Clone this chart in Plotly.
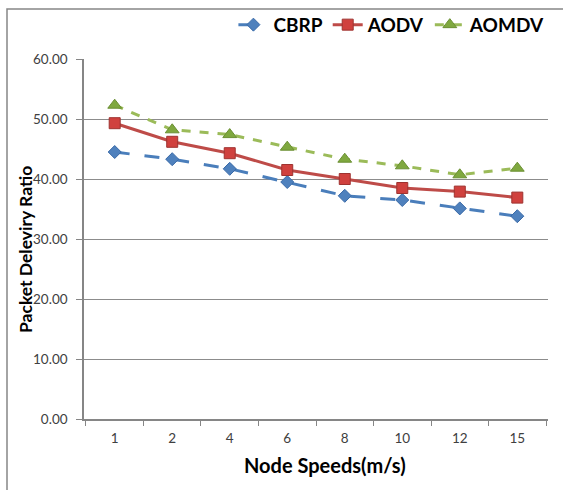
import plotly.graph_objects as go

speeds = ["1", "2", "4", "6", "8", "10", "12", "15"]
cbrp = [44.5, 43.3, 41.7, 39.5, 37.2, 36.5, 35.1, 33.8]
aodv = [49.3, 46.2, 44.3, 41.5, 40.0, 38.5, 37.9, 36.9]
aomdv = [52.3, 48.2, 47.4, 45.3, 43.3, 42.2, 40.7, 41.8]
y_ticks = [0, 10, 20, 30, 40, 50, 60]

fig = go.Figure()
fig.add_trace(go.Scatter(
    x=speeds, y=cbrp, name="CBRP", mode="lines+markers",
    line=dict(color="#4A7EBB", width=3, dash="longdash"),
    marker=dict(symbol="diamond", size=10, color="#4F81BD", line=dict(color="#3A6AA8", width=1))))
fig.add_trace(go.Scatter(
    x=speeds, y=aodv, name="AODV", mode="lines+markers",
    line=dict(color="#BE4B48", width=3),
    marker=dict(symbol="square", size=11, color="#D0413E", line=dict(color="#9E3330", width=1))))
fig.add_trace(go.Scatter(
    x=speeds, y=aomdv, name="AOMDV", mode="lines+markers",
    line=dict(color="#9BBB59", width=3, dash="dash"),
    marker=dict(symbol="triangle-up", size=12, color="#7FA83F", line=dict(color="#6A8F32", width=1))))

fig.update_layout(
    width=563, height=490,
    margin=dict(l=84, r=15, t=59, b=71, autoexpand=False),
    paper_bgcolor="white", plot_bgcolor="white",
    font=dict(family="Lato, Liberation Sans, sans-serif", color="#404040"),
    showlegend=True,
    legend=dict(orientation="h", x=0.322, y=1.095, xanchor="left", yanchor="middle",
                font=dict(size=19, color="#000000", family="Lato, sans-serif", weight="bold"),
                itemwidth=30, tracegroupgap=0, bgcolor="rgba(0,0,0,0)"),
    xaxis=dict(type="category", tickson="boundaries", ticks="outside", ticklen=5,
               tickcolor="#868686", showline=True, linecolor="#868686", linewidth=1.5,
               showgrid=False, tickfont=dict(size=13.5, color="#404040"), automargin=False,
               ticklabelstandoff=6),
    yaxis=dict(range=[0, 60], tickvals=y_ticks, tickformat=".2f", ticks="outside", ticklen=6,
               tickcolor="#868686", showline=True, linecolor="#868686", linewidth=1.5,
               showgrid=True, gridcolor="#8C8C8C", gridwidth=1, zeroline=False,
               tickfont=dict(size=13.5, color="#404040"), automargin=False,
               ticklabelstandoff=6),
    annotations=[
        dict(text="<b>Node Speeds(m/s)</b>", xref="paper", yref="paper", x=0.5, y=0,
             xanchor="center", yanchor="middle", xshift=9, yshift=-46, showarrow=False,
             font=dict(size=20, color="#000000")),
        dict(text="<b>Packet Deleviry Ratio</b>", xref="paper", yref="paper", x=0, y=0.5,
             xanchor="center", yanchor="middle", xshift=-59, yshift=-11, textangle=-90,
             showarrow=False, font=dict(size=17.5, color="#000000")),
    ],
    shapes=[dict(type="rect", xref="paper", yref="paper",
                 x0=(7 - 84) / 464, x1=(600 - 84) / 464,
                 y0=(419 - 520) / 360, y1=(419 - 9) / 360,
                 line=dict(color="#868686", width=1.5), layer="below")],
)
fig.write_html("out.html", config={"displayModeBar": False},
               post_script="document.body.style.margin='0';")
